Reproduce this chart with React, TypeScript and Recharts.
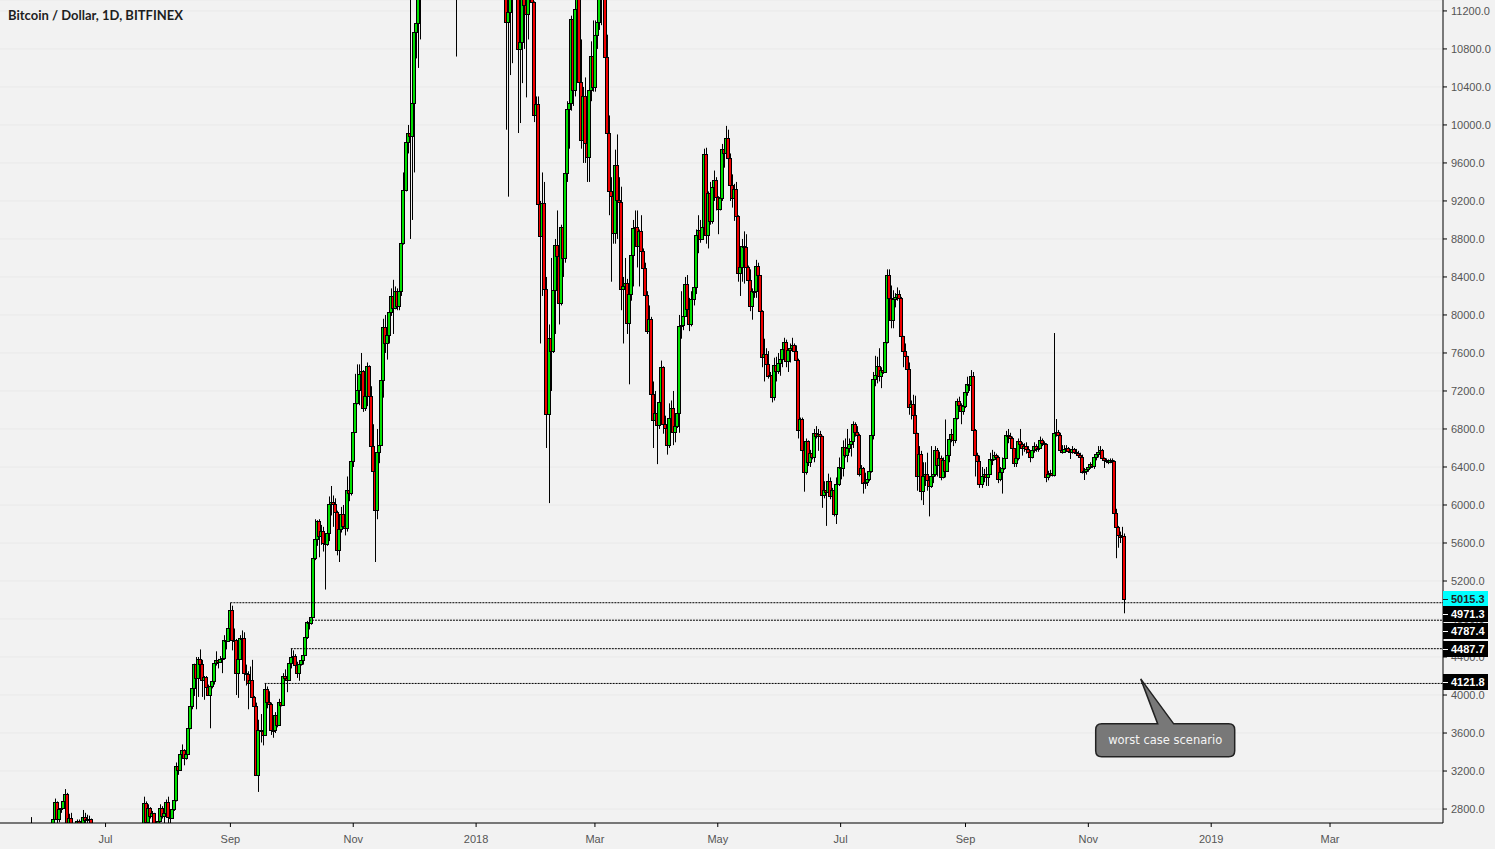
import React from "react";
import {
  ComposedChart,
  Bar,
  XAxis,
  YAxis,
  CartesianGrid,
  ReferenceLine,
  ReferenceDot,
} from "recharts";

// [open, high, low, close] per day, BTC/USD daily on Bitfinex
type Candle = [number, number, number, number];

const may2017: Candle[] = [
  [1960, 2050, 1950, 2041], [2041, 2080, 2000, 2052], [2052, 2280, 2010, 2124], [2124, 2300, 2120, 2272],
  [2272, 2480, 2250, 2446], [2446, 2715, 2310, 2305], [2305, 2530, 2050, 2202], [2202, 2290, 1850, 2038],
  [2038, 2240, 2000, 2156], [2156, 2300, 2110, 2255], [2255, 2300, 2150, 2175], [2175, 2330, 2170, 2286],
];
const jun2017: Candle[] = [
  [2286, 2420, 2280, 2408], [2408, 2500, 2400, 2488], [2488, 2570, 2480, 2516], [2516, 2560, 2480, 2540],
  [2540, 2720, 2535, 2700], [2700, 2910, 2690, 2870], [2870, 2880, 2650, 2691], [2691, 2810, 2660, 2798],
  [2798, 2840, 2760, 2812], [2812, 2910, 2800, 2885], [2885, 3010, 2860, 2960], [2960, 2970, 2350, 2585],
  [2585, 2750, 2580, 2705], [2705, 2760, 2350, 2407], [2407, 2500, 2150, 2441], [2441, 2530, 2410, 2511],
  [2511, 2690, 2500, 2671], [2671, 2690, 2530, 2541], [2541, 2660, 2530, 2630], [2630, 2790, 2620, 2720],
  [2720, 2760, 2640, 2680], [2680, 2740, 2620, 2700], [2700, 2730, 2660, 2690], [2690, 2700, 2560, 2591],
  [2591, 2650, 2510, 2570], [2570, 2600, 2350, 2478], [2478, 2600, 2390, 2589], [2589, 2620, 2510, 2560],
  [2560, 2590, 2520, 2539], [2539, 2560, 2470, 2480],
];
const jul2017: Candle[] = [
  [2480, 2510, 2410, 2434], [2434, 2520, 2400, 2507], [2507, 2600, 2500, 2564], [2564, 2640, 2560, 2601],
  [2601, 2630, 2560, 2610], [2610, 2620, 2580, 2608], [2608, 2610, 2500, 2519], [2519, 2580, 2500, 2571],
  [2571, 2590, 2510, 2518], [2518, 2530, 2320, 2373], [2373, 2410, 2260, 2338], [2338, 2420, 2300, 2405],
  [2405, 2420, 2340, 2363], [2363, 2370, 2180, 2233], [2233, 2240, 1980, 1998], [1998, 2050, 1840, 1929],
  [1929, 2250, 1920, 2228], [2228, 2390, 2200, 2318], [2318, 2400, 2250, 2273], [2273, 2930, 2270, 2860],
  [2860, 2880, 2620, 2668], [2668, 2850, 2660, 2810], [2810, 2820, 2700, 2731], [2731, 2780, 2710, 2754],
  [2754, 2760, 2480, 2577], [2577, 2620, 2460, 2529], [2529, 2700, 2520, 2671], [2671, 2850, 2660, 2810],
  [2810, 2830, 2700, 2727], [2727, 2770, 2620, 2757], [2757, 2900, 2740, 2875],
];
const aug2017: Candle[] = [
  [2875, 2930, 2650, 2718], [2718, 2760, 2650, 2710], [2710, 2820, 2700, 2804], [2804, 2900, 2780, 2895],
  [2895, 3290, 2880, 3252], [3252, 3290, 3160, 3213], [3213, 3420, 3200, 3378], [3378, 3480, 3340, 3419],
  [3419, 3430, 3260, 3342], [3342, 3460, 3320, 3381], [3381, 3700, 3370, 3650], [3650, 3950, 3640, 3884],
  [3884, 4200, 3850, 4073], [4073, 4330, 3990, 4325], [4325, 4400, 3850, 4182], [4182, 4400, 3980, 4376],
  [4376, 4480, 4250, 4331], [4331, 4370, 3980, 4160], [4160, 4200, 3950, 4193], [4193, 4200, 4060, 4088],
  [4088, 4110, 3990, 4001], [4001, 4130, 3650, 4100], [4100, 4250, 4070, 4151], [4151, 4350, 4110, 4334],
  [4334, 4460, 4310, 4371], [4371, 4380, 4280, 4352], [4352, 4410, 4340, 4382], [4382, 4420, 4230, 4388],
  [4388, 4630, 4370, 4579], [4579, 4640, 4480, 4565], [4565, 4760, 4560, 4703],
];
const sep2017: Candle[] = [
  [4703, 4971.3, 4690, 4892], [4892, 4940, 4470, 4578], [4578, 4700, 4450, 4582], [4582, 4590, 4000, 4236],
  [4236, 4480, 3970, 4376], [4376, 4630, 4370, 4597], [4597, 4680, 4500, 4599], [4599, 4660, 4150, 4228],
  [4228, 4320, 4100, 4226], [4226, 4250, 3850, 4122], [4122, 4300, 4090, 4161], [4161, 4370, 4020, 3983],
  [3983, 3990, 3700, 3882], [3882, 3920, 3150, 3154], [3154, 3740, 2980, 3637], [3637, 3800, 3500, 3625],
  [3625, 3730, 3470, 3582], [3582, 4121.8, 3580, 4065], [4065, 4090, 3860, 3924], [3924, 4040, 3880, 3905],
  [3905, 3920, 3580, 3631], [3631, 3760, 3550, 3630], [3630, 3820, 3600, 3792], [3792, 3800, 3660, 3682],
  [3682, 3960, 3680, 3926], [3926, 3990, 3880, 3892], [3892, 4230, 3890, 4200], [4200, 4270, 4150, 4174],
  [4174, 4190, 4030, 4163], [4163, 4370, 4160, 4338],
];
const oct2017: Candle[] = [
  [4338, 4487.7, 4280, 4403], [4403, 4470, 4370, 4409], [4409, 4430, 4240, 4318], [4318, 4350, 4180, 4229],
  [4229, 4360, 4150, 4329], [4329, 4420, 4310, 4370], [4370, 4460, 4320, 4426], [4426, 4630, 4420, 4611],
  [4611, 4780, 4590, 4773], [4773, 4787.4, 4690, 4760], [4760, 4860, 4740, 4826], [4826, 5450, 4820, 5446],
  [5446, 5850, 5420, 5647], [5647, 5840, 5570, 5831], [5831, 5850, 5450, 5678], [5678, 5790, 5580, 5725],
  [5725, 5770, 5510, 5605], [5605, 5620, 5110, 5590], [5590, 5730, 5570, 5708], [5708, 6090, 5620, 6011],
  [6011, 6200, 5890, 6031], [6031, 6100, 5770, 6008], [6008, 6070, 5660, 5930], [5930, 5940, 5470, 5526],
  [5526, 5780, 5400, 5750], [5750, 5980, 5710, 5904], [5904, 6000, 5750, 5780], [5780, 5860, 5680, 5753],
  [5753, 6300, 5720, 6153], [6153, 6200, 6040, 6130], [6130, 6470, 6100, 6468],
];
const nov2017: Candle[] = [
  [6468, 6780, 6400, 6767], [6767, 7380, 6760, 7078], [7078, 7480, 7060, 7207], [7207, 7480, 7050, 7379],
  [7379, 7600, 7300, 7407], [7407, 7420, 6980, 7022], [7022, 7240, 6990, 7144], [7144, 7500, 7040, 7459],
  [7459, 7470, 7060, 7143], [7143, 7250, 6450, 6618], [6618, 6850, 6260, 6357], [6357, 6500, 5400, 5950],
  [5950, 6800, 5850, 6559], [6559, 6700, 6440, 6635], [6635, 7330, 6630, 7315], [7315, 7960, 7130, 7871],
  [7871, 8000, 7600, 7708], [7708, 7860, 7530, 7790], [7790, 8100, 7700, 8036], [8036, 8280, 7990, 8200],
  [8200, 8370, 7800, 8072], [8072, 8300, 8060, 8254], [8254, 8280, 8050, 8091], [8091, 8320, 8050, 8250],
  [8250, 8800, 8200, 8758], [8758, 9500, 8740, 9319], [9319, 9900, 9300, 9819], [9819, 10000, 9700, 9916],
  [9916, 11400, 8800, 9888], [9888, 10700, 9000, 10233],
];
const dec2017: Candle[] = [
  [10233, 11000, 9500, 10975], [10975, 11200, 10700, 11074], [11074, 11900, 10600, 11323], [11323, 11660, 10900, 11657],
  [11657, 12000, 11500, 11916], [11916, 14400, 11850, 14291], [14291, 17900, 14000, 17899], [17899, 18000, 14800, 16570],
  [16570, 16800, 13600, 15178], [15178, 15900, 13100, 15455], [15455, 17300, 15400, 16936], [16936, 17800, 16600, 17415],
  [17415, 17500, 16000, 16408], [16408, 16900, 16000, 16564], [16564, 18000, 16300, 17706], [17706, 19500, 17500, 19497],
  [19497, 19890, 18900, 19140], [19140, 19200, 18000, 19115], [19115, 19150, 16900, 17776], [17776, 17900, 15800, 16624],
  [16624, 17500, 14900, 15802], [15802, 15900, 10720, 13831], [13831, 15600, 13800, 14700], [14700, 14800, 12700, 13926],
  [13926, 14500, 13400, 14026], [14026, 16300, 13900, 16099], [16099, 16600, 15000, 15838], [15838, 15900, 13800, 14607],
  [14607, 15200, 14000, 14657], [14657, 14700, 12200, 12952], [12952, 14200, 12700, 14156],
];
const jan2018: Candle[] = [
  [14156, 14200, 12800, 13657], [13657, 15400, 12900, 14982], [14982, 15600, 14600, 15201], [15201, 15700, 14200, 15599],
  [15599, 17500, 14900, 17429], [17429, 17700, 16600, 17527], [17527, 17600, 16200, 16477], [16477, 16600, 14100, 15170],
  [15170, 15500, 14200, 14595], [14595, 14900, 13200, 14973], [14973, 15000, 12500, 13405], [13405, 14200, 12900, 13980],
  [13980, 14600, 13900, 14360], [14360, 14500, 13200, 13772], [13772, 14400, 13400, 13819], [13819, 13900, 9950, 11080],
  [11080, 11700, 9245, 11188], [11188, 12100, 10525, 11474], [11474, 12000, 10650, 11607], [11607, 13000, 11550, 12899],
  [12899, 12900, 11100, 11600], [11600, 11900, 9915, 10800], [10800, 11300, 10020, 10870], [10870, 11500, 10440, 11359],
  [11359, 11700, 10800, 11259], [11259, 11600, 10290, 11171], [11171, 11600, 10900, 11440], [11440, 12000, 11400, 11787],
  [11787, 11900, 11050, 11296], [11296, 11300, 10030, 10106], [10106, 10300, 9700, 10221],
];
const feb2018: Candle[] = [
  [10221, 10300, 9000, 9171], [9171, 9200, 7700, 8830], [8830, 9500, 8200, 9174], [9174, 9400, 7900, 8277],
  [8277, 8400, 6600, 6955], [6955, 7900, 6020, 7754], [7754, 8600, 7200, 7621], [7621, 8600, 7600, 8265],
  [8265, 8800, 7800, 8736], [8736, 9100, 8200, 8621], [8621, 8650, 7900, 8129], [8129, 8950, 8100, 8926],
  [8926, 8950, 8400, 8598], [8598, 9500, 8550, 9494], [9494, 10250, 9400, 10166], [10166, 10350, 9750, 10233],
  [10233, 11150, 10150, 11112], [11112, 11200, 10200, 10370], [10370, 11300, 10300, 11225], [11225, 11780, 11200, 11403],
  [11403, 11500, 10400, 10450], [10450, 10900, 9750, 9840], [9840, 10400, 9600, 10301], [10301, 10500, 9600, 9813],
  [9813, 9980, 9400, 9664], [9664, 10450, 9400, 10366], [10366, 10880, 10250, 10725], [10725, 11100, 10350, 10397],
];
const mar2018: Candle[] = [
  [10397, 11100, 10350, 10951], [10951, 11200, 10800, 11086], [11086, 11550, 11000, 11489], [11489, 11550, 11050, 11512],
  [11512, 11700, 11400, 11573], [11573, 11600, 10600, 10720], [10720, 10950, 9450, 9915], [9915, 10100, 9050, 9300],
  [9300, 9450, 8350, 9250], [9250, 9500, 8750, 8866], [8866, 9740, 8750, 9578], [9578, 9900, 8800, 9205],
  [9205, 9450, 8900, 9194], [9194, 9350, 8050, 8269], [8269, 8400, 7700, 8300], [8300, 8600, 7950, 8338],
  [8338, 8380, 7800, 7916], [7916, 8250, 7270, 8223], [8223, 8700, 8150, 8630], [8630, 9000, 8300, 8913],
  [8913, 9100, 8800, 8930], [8930, 9100, 8500, 8728], [8728, 8900, 8300, 8879], [8879, 9050, 8500, 8668],
  [8668, 8700, 8400, 8495], [8495, 8550, 7900, 8209], [8209, 8250, 7800, 7833], [7833, 8100, 7800, 7954],
  [7954, 7980, 7000, 7165], [7165, 7300, 6600, 6890], [6890, 7200, 6850, 6973],
];
const apr2018: Candle[] = [
  [6973, 7050, 6430, 6844], [6844, 7150, 6800, 7083], [7083, 7520, 7050, 7456], [7456, 7460, 6750, 6853],
  [6853, 6940, 6650, 6811], [6811, 6860, 6530, 6636], [6636, 7070, 6600, 6911], [6911, 7100, 6900, 7023],
  [7023, 7200, 6630, 6770], [6770, 6900, 6660, 6834], [6834, 6990, 6810, 6968], [6968, 8000, 6760, 7889],
  [7889, 8250, 7750, 7895], [7895, 8180, 7840, 7986], [7986, 8400, 7980, 8329], [8329, 8420, 7930, 8058],
  [8058, 8180, 7830, 7902], [7902, 8250, 7880, 8163], [8163, 8310, 8100, 8294], [8294, 8900, 8220, 8845],
  [8845, 9050, 8650, 8895], [8895, 9000, 8760, 8802], [8802, 9000, 8800, 8930], [8930, 9750, 8920, 9698],
  [9698, 9760, 8750, 8845], [8845, 9300, 8700, 9281], [9281, 9400, 8950, 8987], [8987, 9400, 8960, 9348],
  [9348, 9520, 9200, 9419], [9419, 9450, 9100, 9240],
];
const may2018: Candle[] = [
  [9240, 9250, 8850, 9119], [9119, 9280, 9100, 9235], [9235, 9800, 9200, 9743], [9743, 9780, 9550, 9700],
  [9700, 9990, 9690, 9858], [9858, 9950, 9500, 9654], [9654, 9700, 9200, 9373], [9373, 9480, 9130, 9234],
  [9234, 9380, 8990, 9325], [9325, 9400, 9000, 9043], [9043, 9050, 8350, 8441], [8441, 8650, 8200, 8504],
  [8504, 8800, 8350, 8723], [8723, 8880, 8330, 8716], [8716, 8850, 8460, 8510], [8510, 8520, 8150, 8368],
  [8368, 8480, 8040, 8094], [8094, 8280, 7950, 8250], [8250, 8400, 8180, 8247], [8247, 8580, 8180, 8513],
  [8513, 8550, 8340, 8418], [8418, 8420, 8000, 8041], [8041, 8050, 7450, 7557], [7557, 7750, 7300, 7587],
  [7587, 7650, 7350, 7480], [7480, 7620, 7330, 7355], [7355, 7400, 7250, 7368], [7368, 7400, 7080, 7135],
  [7135, 7550, 7100, 7472], [7472, 7560, 7300, 7406], [7406, 7600, 7380, 7494],
];
const jun2018: Candle[] = [
  [7494, 7620, 7360, 7541], [7541, 7700, 7450, 7644], [7644, 7760, 7600, 7720], [7720, 7740, 7450, 7514],
  [7514, 7650, 7400, 7633], [7633, 7700, 7500, 7653], [7653, 7760, 7640, 7679], [7679, 7700, 7560, 7624],
  [7624, 7680, 7500, 7531], [7531, 7540, 6700, 6786], [6786, 6920, 6680, 6906], [6906, 6920, 6480, 6582],
  [6582, 6620, 6140, 6349], [6349, 6700, 6320, 6675], [6675, 6680, 6410, 6456], [6456, 6580, 6400, 6550],
  [6550, 6600, 6480, 6500], [6500, 6800, 6450, 6760], [6760, 6830, 6700, 6729], [6729, 6800, 6570, 6750],
  [6750, 6780, 6690, 6721], [6721, 6730, 5970, 6110], [6110, 6250, 6070, 6154], [6154, 6250, 5780, 6133],
  [6133, 6330, 6100, 6249], [6249, 6290, 6060, 6094], [6094, 6180, 6040, 6157], [6157, 6170, 5880, 5903],
  [5903, 6290, 5800, 6218], [6218, 6500, 6200, 6404],
];
const jul2018: Candle[] = [
  [6404, 6440, 6270, 6385], [6385, 6680, 6300, 6614], [6614, 6700, 6500, 6529], [6529, 6800, 6450, 6597],
  [6597, 6700, 6550, 6639], [6639, 6700, 6510, 6673], [6673, 6880, 6600, 6857], [6857, 6870, 6720, 6773],
  [6773, 6830, 6670, 6741], [6741, 6750, 6300, 6329], [6329, 6420, 6300, 6394], [6394, 6400, 6120, 6228],
  [6228, 6340, 6170, 6238], [6238, 6320, 6200, 6276], [6276, 6400, 6250, 6360], [6360, 6750, 6340, 6741],
  [6741, 7400, 6690, 7321], [7321, 7570, 7250, 7370], [7370, 7560, 7280, 7466], [7466, 7650, 7300, 7354],
  [7354, 7450, 7230, 7419], [7419, 7550, 7380, 7400], [7400, 7770, 7400, 7717], [7717, 8480, 7700, 8424],
  [8424, 8480, 8050, 8182], [8182, 8310, 7860, 7951], [7951, 8260, 7860, 8166], [8166, 8230, 8080, 8193],
  [8193, 8290, 8150, 8218], [8218, 8260, 7890, 8180], [8180, 8190, 7700, 7780],
];
const aug2018: Candle[] = [
  [7780, 7780, 7450, 7625], [7625, 7700, 7480, 7567], [7567, 7570, 7300, 7434], [7434, 7500, 6950, 7033],
  [7033, 7100, 6900, 7068], [7068, 7160, 6850, 6952], [6952, 7150, 6680, 6753], [6753, 6760, 6150, 6306],
  [6306, 6620, 6200, 6538], [6538, 6570, 6050, 6152], [6152, 6450, 6000, 6305], [6305, 6450, 6200, 6331],
  [6331, 6550, 6150, 6263], [6263, 6270, 5880, 6200], [6200, 6620, 6180, 6309], [6309, 6480, 6230, 6331],
  [6331, 6620, 6300, 6580], [6580, 6600, 6300, 6424], [6424, 6560, 6310, 6493], [6493, 6520, 6260, 6294],
  [6294, 6500, 6280, 6476], [6476, 6900, 6290, 6361], [6361, 6550, 6350, 6527], [6527, 6720, 6450, 6690],
  [6690, 6800, 6660, 6750], [6750, 6770, 6620, 6689], [6689, 6930, 6650, 6913], [6913, 7120, 6900, 7091],
  [7091, 7140, 7010, 7052], [7052, 7070, 6850, 6990], [6990, 7080, 6950, 7037],
];
const sep2018: Candle[] = [
  [7037, 7250, 7020, 7193], [7193, 7350, 7150, 7273], [7273, 7340, 7200, 7260], [7260, 7420, 7250, 7361],
  [7361, 7400, 6720, 6793], [6793, 6800, 6300, 6529], [6529, 6550, 6380, 6467], [6467, 6520, 6180, 6225],
  [6225, 6400, 6180, 6300], [6300, 6380, 6240, 6330], [6330, 6400, 6200, 6298], [6298, 6350, 6200, 6329],
  [6329, 6550, 6320, 6487], [6487, 6580, 6420, 6484], [6484, 6560, 6470, 6521], [6521, 6540, 6420, 6502],
  [6502, 6520, 6230, 6269], [6269, 6400, 6250, 6352], [6352, 6500, 6120, 6393], [6393, 6530, 6370, 6498],
  [6498, 6780, 6490, 6734], [6734, 6800, 6650, 6721], [6721, 6760, 6660, 6710], [6710, 6720, 6570, 6595],
  [6595, 6600, 6400, 6446], [6446, 6550, 6400, 6495], [6495, 6700, 6470, 6676], [6676, 6800, 6620, 6644],
  [6644, 6660, 6520, 6601], [6601, 6650, 6560, 6625],
];
const oct2018: Candle[] = [
  [6625, 6660, 6540, 6589], [6589, 6620, 6500, 6556], [6556, 6570, 6450, 6502], [6502, 6620, 6490, 6576],
  [6576, 6660, 6550, 6622], [6622, 6640, 6560, 6588], [6588, 6630, 6560, 6602], [6602, 6720, 6590, 6680],
  [6680, 6700, 6620, 6650], [6650, 6670, 6580, 6640], [6640, 6650, 6240, 6290], [6290, 6360, 6260, 6330],
  [6330, 6370, 6300, 6340], [6340, 6380, 6300, 6320], [6320, 7810, 6300, 6760], [6760, 6905, 6720, 6770],
  [6770, 6790, 6700, 6740], [6740, 6760, 6560, 6580], [6580, 6630, 6540, 6560], [6560, 6630, 6550, 6590],
  [6590, 6630, 6570, 6600], [6600, 6610, 6550, 6570], [6570, 6590, 6484, 6555], [6555, 6620, 6540, 6590],
  [6590, 6600, 6540, 6560], [6560, 6590, 6520, 6545], [6545, 6570, 6510, 6530], [6530, 6550, 6500, 6510],
  [6510, 6530, 6330, 6350], [6350, 6390, 6263, 6360], [6360, 6400, 6320, 6375],
];
const nov2018: Candle[] = [
  [6375, 6420, 6350, 6400], [6400, 6450, 6380, 6430], [6430, 6440, 6390, 6410], [6410, 6530, 6380, 6510],
  [6510, 6550, 6470, 6540], [6540, 6620, 6500, 6560], [6560, 6620, 6540, 6580], [6580, 6590, 6470, 6490],
  [6490, 6500, 6390, 6470], [6470, 6490, 6440, 6460], [6460, 6480, 6430, 6450], [6450, 6490, 6440, 6470],
  [6470, 6490, 6400, 6460], [6460, 6470, 5900, 5920], [5920, 5960, 5440, 5770], [5770, 5780, 5550, 5680],
  [5680, 5720, 5600, 5660], [5660, 5770, 5640, 5674], [5674, 5700, 4860, 5015.3],
];

const monthBlocks: [string, Candle[]][] = [
  ["2017-05-20", may2017], ["2017-06-01", jun2017], ["2017-07-01", jul2017], ["2017-08-01", aug2017],
  ["2017-09-01", sep2017], ["2017-10-01", oct2017], ["2017-11-01", nov2017], ["2017-12-01", dec2017],
  ["2018-01-01", jan2018], ["2018-02-01", feb2018], ["2018-03-01", mar2018], ["2018-04-01", apr2018],
  ["2018-05-01", may2018], ["2018-06-01", jun2018], ["2018-07-01", jul2018], ["2018-08-01", aug2018],
  ["2018-09-01", sep2018], ["2018-10-01", oct2018], ["2018-11-01", nov2018],
];

const xTickDates = [
  "2017-07-01", "2017-09-01", "2017-11-01", "2018-01-01", "2018-03-01", "2018-05-01",
  "2018-07-01", "2018-09-01", "2018-11-01", "2019-01-01", "2019-03-01",
];
const xTickLabels = ["Jul", "Sep", "Nov", "2018", "Mar", "May", "Jul", "Sep", "Nov", "2019", "Mar"];
const yTicks = [
  2800, 3200, 3600, 4000, 4400, 4800, 5200, 5600, 6000, 6400, 6800,
  7200, 7600, 8000, 8400, 8800, 9200, 9600, 10000, 10400, 10800, 11200,
];

// horizontal support levels drawn from the candle where they start
const levelPrices = [4971.3, 4787.4, 4487.7, 4121.8];
const levelStarts = ["2017-09-01", "2017-10-10", "2017-10-01", "2017-09-18"];
const lastPrice = 5015.3;
const calloutDate = "2018-11-27";
const calloutPrice = 4170;
const calloutText = "worst case scenario";

const DAY = 86400000;
const ORIGIN = Date.UTC(2017, 4, 20);
const dayIndex = (iso: string) => Math.round((Date.parse(iso + "T00:00:00Z") - ORIGIN) / DAY);

const candles = monthBlocks.flatMap(([start, rows]) => {
  const t0 = dayIndex(start);
  return rows.map(([open, high, low, close], i) => ({
    t: t0 + i,
    open,
    high,
    low,
    close,
    range: [low, high],
  }));
});

const X_MIN = -10.4;
const X_MAX = 706.1;
const Y_MIN = 2653;
const Y_MAX = 11315;
const GREEN = "#00e000";
const RED = "#f00000";
const FONT = "'Liberation Sans', Arial, sans-serif";
// tag stacking so the price tags don't collide
const tagNudge = [11, 11, 0, -1];

const xTicks = xTickDates.map(dayIndex);
const xLabel = (t: number) => xTickLabels[xTicks.indexOf(t)] ?? "";

const CandleShape = (props: any) => {
  const { x, y, width, height, payload } = props;
  if (!payload || y == null || height == null) return null;
  const { open, high, low, close } = payload;
  const top = Math.min(y, y + height);
  const span = Math.abs(height);
  const k = span / (high - low);
  const py = (v: number) => top + (high - v) * k;
  const cx = Math.round(x + width / 2) + 0.5;
  const bTop = Math.round(py(Math.max(open, close))) + 0.5;
  const bBot = Math.round(py(Math.min(open, close))) + 0.5;
  return (
    <g>
      <line x1={cx} x2={cx} y1={top} y2={top + span} stroke="#000" strokeWidth={1} />
      <rect
        x={cx - 2}
        y={bTop}
        width={3}
        height={Math.max(bBot - bTop, 1)}
        fill={close >= open ? GREEN : RED}
        stroke="#000"
        strokeWidth={1}
      />
    </g>
  );
};

const PriceTag = ({ cx, cy, text, nudge, bg, fg }: any) => {
  if (cx == null || cy == null) return null;
  const x = Math.round(cx);
  const y = Math.round(cy + nudge);
  return (
    <g>
      <rect x={x} y={y - 8} width={45} height={16} fill={bg} />
      <line x1={x} x2={x + 5} y1={y + 0.5} y2={y + 0.5} stroke={fg} />
      <text x={x + 8} y={y} dy="0.36em" fill={fg} fontSize={11} fontWeight="bold" fontFamily={FONT}>
        {text}
      </text>
    </g>
  );
};

const Callout = ({ cx, cy, text }: any) => {
  if (cx == null || cy == null) return null;
  const L = cx - 45;
  const R = cx + 94;
  const T = cy + 45;
  const B = cy + 78;
  const r = 6;
  const d =
    `M${L + r},${T} L${cx + 17},${T} L${cx},${cy} L${cx + 33},${T} L${R - r},${T} ` +
    `Q${R},${T} ${R},${T + r} L${R},${B - r} Q${R},${B} ${R - r},${B} L${L + r},${B} ` +
    `Q${L},${B} ${L},${B - r} L${L},${T + r} Q${L},${T} ${L + r},${T} Z`;
  return (
    <g>
      <path d={d} fill="#787878" stroke="#222" strokeWidth={1.5} />
      <text
        x={(L + R) / 2}
        y={(T + B) / 2}
        dy="0.35em"
        textAnchor="middle"
        fill="#f4f4f4"
        fontSize={11.5}
        fontFamily="'DejaVu Sans', Verdana, sans-serif"
      >
        {text}
      </text>
    </g>
  );
};

export default function App() {
  return (
    <div style={{ position: "relative", width: 1495, height: 849, background: "#f2f2f2" }}>
      <style>{"body{margin:0;background:#f2f2f2}"}</style>
      <div
        style={{
          position: "absolute",
          left: 8,
          top: 7,
          fontFamily: "Lato, sans-serif",
          fontWeight: 700,
          fontSize: 13,
          color: "#1e1e1e",
          zIndex: 2,
        }}
      >
        Bitcoin / Dollar, 1D, BITFINEX
      </div>
      <ComposedChart
        width={1495}
        height={849}
        data={candles}
        margin={{ top: 0, right: 0, bottom: 0, left: 0 }}
        style={{ fontFamily: FONT }}
      >
        <CartesianGrid vertical={false} stroke="#e9e9e9" />
        <XAxis
          dataKey="t"
          type="number"
          domain={[X_MIN, X_MAX]}
          allowDataOverflow
          ticks={xTicks}
          tickFormatter={xLabel}
          height={26}
          axisLine={{ stroke: "#000" }}
          tickLine={{ stroke: "#000" }}
          tickSize={4}
          tickMargin={8}
          tick={{ fill: "#555", fontSize: 11, fontFamily: FONT }}
        />
        <YAxis
          orientation="right"
          type="number"
          domain={[Y_MIN, Y_MAX]}
          allowDataOverflow
          ticks={yTicks}
          tickFormatter={(v: number) => v.toFixed(1)}
          width={52}
          axisLine={{ stroke: "#000" }}
          tickLine={{ stroke: "#000" }}
          tickSize={4}
          tickMargin={4}
          tick={{ fill: "#555", fontSize: 11, fontFamily: FONT }}
        />
        <Bar dataKey="range" barSize={3} shape={CandleShape} isAnimationActive={false} />
        {levelPrices.map((p, i) => (
          <ReferenceLine
            key={p}
            segment={[
              { x: dayIndex(levelStarts[i]), y: p },
              { x: X_MAX, y: p },
            ]}
            stroke="#000"
            strokeDasharray="2 1"
            strokeWidth={1}
          />
        ))}
        <ReferenceDot
          x={X_MAX}
          y={lastPrice}
          r={0}
          ifOverflow="visible"
          zIndex={3000}
          shape={(p: any) => <PriceTag cx={p.cx} cy={p.cy} text={lastPrice.toFixed(1)} nudge={0} bg="#00ffff" fg="#222" />}
        />
        {levelPrices.map((p, i) => (
          <ReferenceDot
            key={"tag" + p}
            x={X_MAX}
            y={p}
            r={0}
            ifOverflow="visible"
            zIndex={3000}
            shape={(q: any) => <PriceTag cx={q.cx} cy={q.cy} text={p.toFixed(1)} nudge={tagNudge[i]} bg="#000" fg="#fff" />}
          />
        ))}
        <ReferenceDot
          x={dayIndex(calloutDate)}
          y={calloutPrice}
          r={0}
          ifOverflow="visible"
          zIndex={3000}
          shape={(p: any) => <Callout cx={p.cx} cy={p.cy} text={calloutText} />}
        />
      </ComposedChart>
    </div>
  );
}
